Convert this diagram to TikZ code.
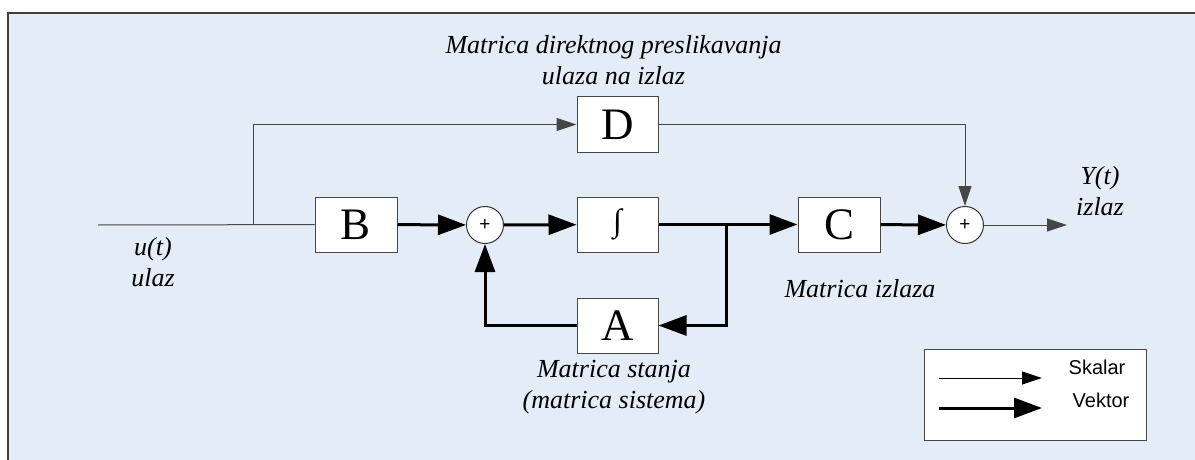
\documentclass[tikz,border=0pt]{standalone}
\usepackage{fontspec}
\setmainfont{Liberation Serif}
\newfontfamily\legendfont{Liberation Sans}
\usetikzlibrary{arrows.meta}

\definecolor{panel}{RGB}{228,236,247}
\definecolor{wire}{RGB}{70,70,70}

\tikzset{
  blok/.style={draw=wire, fill=white, line width=1pt, minimum height=55pt, inner sep=0pt,
    font=\fontsize{45}{45}\selectfont},
  zbir/.style={draw=black!80, fill=white, circle, line width=1pt, minimum size=37pt, inner sep=0pt,
    font=\legendfont\fontsize{19}{19}\selectfont},
  skalar/.style={draw=wire, line width=1pt, -{Triangle[length=20pt,width=13pt]}},
  vektor/.style={draw=black, line width=3pt, -{Triangle[length=28pt,width=20pt]}},
  opis/.style={font=\itshape\fontsize{26}{31}\selectfont, align=center, inner sep=0pt},
  legtext/.style={font=\legendfont\fontsize{20}{20}\selectfont, inner sep=0pt},
}

\begin{document}
\begin{tikzpicture}[x=1pt,y=-1pt]
    \useasboundingbox (0,0) rectangle (1195,460);
    % background panel
    \begin{scope}
        \clip (0,0) rectangle (1195,460);
        \fill[panel] (8,13) rectangle (1205,470);
        \draw[line width=1.5pt, black!75] (8,470) -- (8,13) -- (1205,13);
    \end{scope}

    % blocks
    \node[blok, minimum width=82pt] (B) at (356,224.5) {B};
    \node[zbir] (s1) at (485,225) {+};
    \node[blok, minimum width=81pt] (I) at (617.5,224.5) {\fontsize{32}{32}\selectfont ∫};
    \node[blok, minimum width=81pt] (D) at (617.5,124.5) {D};
    \node[blok, minimum width=81pt] (A) at (617.5,325.5) {A};
    \node[blok, minimum width=82pt] (C) at (839,224.5) {C};
    \node[zbir] (s2) at (965,225) {+};

    \coordinate (ulaz) at (98,225);
    \coordinate (grana) at (253,225);
    \coordinate (cvor) at (726,225);
    \coordinate (izlaz) at (1067,225);

    % signal paths
    \draw[wire, line width=1pt] (ulaz) -- (B);
    \draw[skalar] (grana) |- (D);
    \draw[skalar] (D) -| (s2);
    \draw[vektor] (B) -- (s1);
    \draw[vektor] (s1) -- (I);
    \draw[vektor] (I) -- (C);
    \draw[vektor] (cvor) |- (A);
    \draw[vektor] (A) -| (s1);
    \draw[vektor] (C) -- (s2);
    \draw[skalar] (s2) -- (izlaz);

    % labels
    \node[opis] (lD) at (613.5,60) {Matrica direktnog preslikavanja\\ulaza na izlaz};
    \node[opis] (lA) at (614,387) {Matrica stanja\\(matrica sistema)};
    \node[opis] (lC) at (860,289) {Matrica izlaza};
    \node[opis] (lu) at (153,262) {u(t)\\ulaz};
    \node[opis] (ly) at (1100,191) {Y(t)\\izlaz};

    % legend
    \node[draw=wire, fill=white, line width=1pt, minimum width=222pt, minimum height=91pt] (leg) at (1035,394.5) {};
    \coordinate (sk1) at (939,378);
    \coordinate (sk2) at (1042,378);
    \coordinate (vk1) at (939,408);
    \coordinate (vk2) at (1042,408);
    \draw[skalar, draw=black] (sk1) -- (sk2);
    \draw[vektor] (vk1) -- (vk2);
    \node[legtext] (lsk) at (1097,367) {Skalar};
    \node[legtext] (lvk) at (1101,400) {Vektor};
\end{tikzpicture}
\end{document}
